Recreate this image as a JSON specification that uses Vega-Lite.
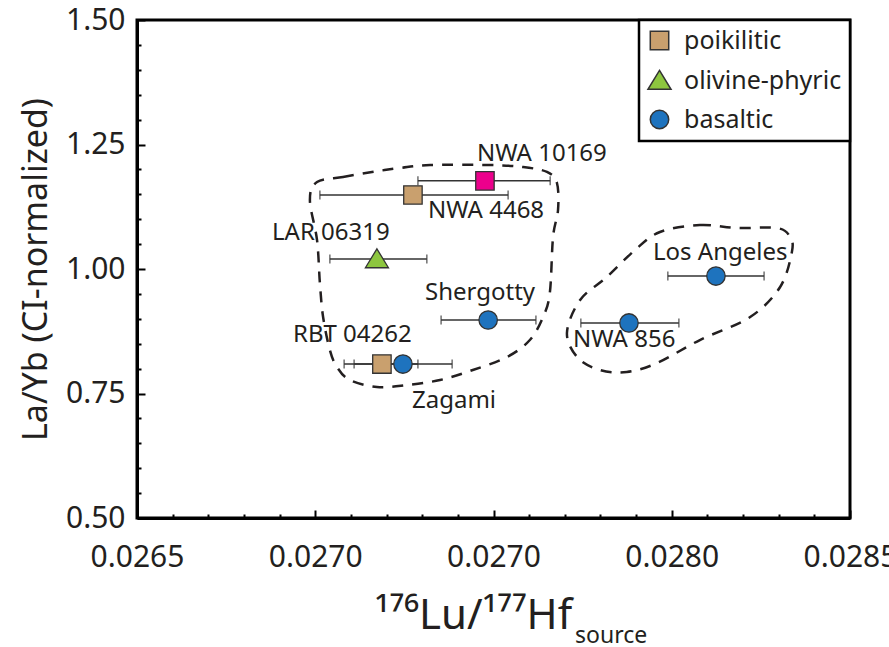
{
  "$schema": "https://vega.github.io/schema/vega-lite/v6.json",
  "width": 713,
  "height": 498,
  "autosize": {"type": "none"},
  "padding": {"left": 137, "top": 20, "right": 39, "bottom": 129},
  "background": "white",
  "config": {
    "view": {"stroke": "black", "strokeWidth": 3},
    "font": "Noto Sans",
    "axis": {"grid": false, "domainColor": "black", "domainWidth": 3, "tickColor": "black", "tickWidth": 2, "labelFont": "Noto Sans", "labelFontSize": 30, "labelColor": "#231F20", "labelOverlap": false, "labelFlush": false, "labelBound": false, "titleColor": "#231F20", "titleFontWeight": "normal"},
    "legend": {"orient": "top-right", "offset": 0, "padding": 8, "strokeColor": "black", "strokeWidth": 2.5, "fillColor": "white", "labelFont": "Noto Sans", "labelFontSize": 25, "labelColor": "#231F20", "rowPadding": 13, "labelOffset": 12, "cornerRadius": 0, "symbolSize": 340}
  },
  "datasets": {
    "pts": [
      {"name": "NWA 10169", "group": "NWA 10169", "x": 0.027476, "y": 1.177, "xlo": 0.027288, "xhi": 0.027659},
      {"name": "NWA 4468", "group": "poikilitic", "x": 0.027274, "y": 1.1486, "xlo": 0.027013, "xhi": 0.027541},
      {"name": "LAR 06319", "group": "olivine-phyric", "x": 0.027173, "y": 1.0201, "xlo": 0.027041, "xhi": 0.027313},
      {"name": "Shergotty", "group": "basaltic", "x": 0.027485, "y": 0.8976, "xlo": 0.027353, "xhi": 0.027619},
      {"name": "RBT 04262", "group": "poikilitic", "x": 0.027187, "y": 0.8092, "xlo": 0.027081, "xhi": 0.027288},
      {"name": "Zagami", "group": "basaltic", "x": 0.027246, "y": 0.8092, "xlo": 0.027109, "xhi": 0.027384},
      {"name": "NWA 856", "group": "basaltic", "x": 0.02788, "y": 0.8916, "xlo": 0.027745, "xhi": 0.02802},
      {"name": "Los Angeles", "group": "basaltic", "x": 0.028124, "y": 0.9859, "xlo": 0.027989, "xhi": 0.028259}
    ],
    "labels": [
      {"name": "NWA 10169", "x": 0.0274537, "y": 1.2169},
      {"name": "NWA 4468", "x": 0.0273163, "y": 1.1024},
      {"name": "LAR 06319", "x": 0.0268787, "y": 1.0582},
      {"name": "Shergotty", "x": 0.0273079, "y": 0.9378},
      {"name": "RBT 04262", "x": 0.0269376, "y": 0.8534},
      {"name": "Zagami", "x": 0.0272714, "y": 0.7209},
      {"name": "NWA 856", "x": 0.027723, "y": 0.8434},
      {"name": "Los Angeles", "x": 0.0279474, "y": 1.0181}
    ],
    "sub": [
      {"t": "source", "x": 0.0277286, "y": 0.249}
    ],
    "outline": [
      {"region": "A", "ord": 1, "x": 0.027005, "y": 1.1747},
      {"region": "A", "ord": 2, "x": 0.027078, "y": 1.1847},
      {"region": "A", "ord": 3, "x": 0.027159, "y": 1.1948},
      {"region": "A", "ord": 4, "x": 0.027238, "y": 1.2028},
      {"region": "A", "ord": 5, "x": 0.027322, "y": 1.2088},
      {"region": "A", "ord": 6, "x": 0.02749, "y": 1.2088},
      {"region": "A", "ord": 7, "x": 0.027583, "y": 1.2048},
      {"region": "A", "ord": 8, "x": 0.02765, "y": 1.1948},
      {"region": "A", "ord": 9, "x": 0.027678, "y": 1.1727},
      {"region": "A", "ord": 10, "x": 0.027681, "y": 1.1185},
      {"region": "A", "ord": 11, "x": 0.027667, "y": 1.0643},
      {"region": "A", "ord": 12, "x": 0.027658, "y": 0.9518},
      {"region": "A", "ord": 13, "x": 0.027639, "y": 0.9036},
      {"region": "A", "ord": 14, "x": 0.027602, "y": 0.8574},
      {"region": "A", "ord": 15, "x": 0.027538, "y": 0.8233},
      {"region": "A", "ord": 16, "x": 0.027442, "y": 0.7972},
      {"region": "A", "ord": 17, "x": 0.02735, "y": 0.7771},
      {"region": "A", "ord": 18, "x": 0.027257, "y": 0.7671},
      {"region": "A", "ord": 19, "x": 0.027173, "y": 0.7631},
      {"region": "A", "ord": 20, "x": 0.027097, "y": 0.7771},
      {"region": "A", "ord": 21, "x": 0.027061, "y": 0.8032},
      {"region": "A", "ord": 22, "x": 0.027041, "y": 0.8373},
      {"region": "A", "ord": 23, "x": 0.027022, "y": 0.9036},
      {"region": "A", "ord": 24, "x": 0.027013, "y": 0.9719},
      {"region": "A", "ord": 25, "x": 0.027005, "y": 1.0582},
      {"region": "A", "ord": 26, "x": 0.026985, "y": 1.1386},
      {"region": "B", "ord": 1, "x": 0.027967, "y": 1.0743},
      {"region": "B", "ord": 2, "x": 0.028079, "y": 1.0884},
      {"region": "B", "ord": 3, "x": 0.028183, "y": 1.0823},
      {"region": "B", "ord": 4, "x": 0.028295, "y": 1.0823},
      {"region": "B", "ord": 5, "x": 0.028332, "y": 1.0643},
      {"region": "B", "ord": 6, "x": 0.028337, "y": 1.0342},
      {"region": "B", "ord": 7, "x": 0.028304, "y": 0.9639},
      {"region": "B", "ord": 8, "x": 0.02822, "y": 0.9036},
      {"region": "B", "ord": 9, "x": 0.028079, "y": 0.8574},
      {"region": "B", "ord": 10, "x": 0.027959, "y": 0.8112},
      {"region": "B", "ord": 11, "x": 0.027874, "y": 0.7932},
      {"region": "B", "ord": 12, "x": 0.027799, "y": 0.7972},
      {"region": "B", "ord": 13, "x": 0.027737, "y": 0.8213},
      {"region": "B", "ord": 14, "x": 0.027706, "y": 0.8715},
      {"region": "B", "ord": 15, "x": 0.027743, "y": 0.9378},
      {"region": "B", "ord": 16, "x": 0.027818, "y": 0.984},
      {"region": "B", "ord": 17, "x": 0.027897, "y": 1.0382}
    ]
  },
  "layer": [
    {
      "data": {"name": "outline"},
      "mark": {"type": "line", "interpolate": "cardinal-closed", "strokeDash": [11, 9], "strokeWidth": 2.5, "color": "#231F20"},
      "encoding": {
        "x": {"field": "x", "type": "quantitative", "scale": {"domain": [0.0265, 0.0285], "nice": false, "zero": false},
          "axis": {
            "values": [0.0265, 0.0266, 0.0267, 0.0268, 0.0269, 0.027, 0.0271, 0.0272, 0.0273, 0.0274, 0.0275, 0.0276, 0.0277, 0.0278, 0.0279, 0.028, 0.0281, 0.0282, 0.0283, 0.0284, 0.0285],
            "tickCount": 100,
            "tickSize": {"condition": {"test": "abs(datum.value*2000 - round(datum.value*2000)) < 0.001", "value": -8}, "value": -4},
            "labelExpr": "abs(datum.value*2000 - round(datum.value*2000)) < 0.001 ? (abs(datum.value - 0.0275) < 0.00001 ? '0.0270' : format(datum.value, '.4f')) : ''",
            "labelOverlap": false,
            "labelPadding": 32,
            "title": "¹⁷⁶Lu/¹⁷⁷Hf",
            "titleFont": "Noto Sans",
            "titleFontSize": 42,
            "titleX": 336,
            "titleY": 110,
            "titleAlign": "center",
            "titleBaseline": "alphabetic"
          }
        },
        "y": {"field": "y", "type": "quantitative", "scale": {"domain": [0.5, 1.5], "nice": false, "zero": false},
          "axis": {
            "values": [0.5, 0.55, 0.6, 0.65, 0.7, 0.75, 0.8, 0.85, 0.9, 0.95, 1.0, 1.05, 1.1, 1.15, 1.2, 1.25, 1.3, 1.35, 1.4, 1.45, 1.5],
            "tickCount": 100,
            "tickSize": {"condition": {"test": "abs(datum.value*4 - round(datum.value*4)) < 0.001", "value": -8}, "value": -4},
            "labelExpr": "abs(datum.value*4 - round(datum.value*4)) < 0.001 ? format(datum.value, '.2f') : ''",
            "labelOverlap": false,
            "labelPadding": 20,
            "title": "La/Yb (CI-normalized)",
            "titleFont": "Noto Sans",
            "titleFontSize": 34,
            "titleX": -91,
            "titleY": 249,
            "titleAngle": 270,
            "titleAlign": "center",
            "titleBaseline": "alphabetic"
          }
        },
        "detail": {"field": "region", "type": "nominal"},
        "order": {"field": "ord", "type": "quantitative"}
      }
    },
    {
      "data": {"name": "pts"},
      "mark": {"type": "rule", "color": "#333333", "strokeWidth": 1.5},
      "encoding": {
        "x": {"field": "xlo", "type": "quantitative"},
        "x2": {"field": "xhi"},
        "y": {"field": "y", "type": "quantitative"}
      }
    },
    {
      "data": {"name": "pts"},
      "mark": {"type": "tick", "orient": "vertical", "color": "#333333", "size": 9, "thickness": 1.5},
      "encoding": {
        "x": {"field": "xlo", "type": "quantitative"},
        "y": {"field": "y", "type": "quantitative"}
      }
    },
    {
      "data": {"name": "pts"},
      "mark": {"type": "tick", "orient": "vertical", "color": "#333333", "size": 9, "thickness": 1.5},
      "encoding": {
        "x": {"field": "xhi", "type": "quantitative"},
        "y": {"field": "y", "type": "quantitative"}
      }
    },
    {
      "data": {"name": "pts"},
      "mark": {"type": "point", "filled": true, "stroke": "#333333", "strokeWidth": 1.3, "opacity": 1, "size": 340},
      "encoding": {
        "x": {"field": "x", "type": "quantitative"},
        "y": {"field": "y", "type": "quantitative"},
        "shape": {"field": "group", "type": "nominal",
          "scale": {"domain": ["poikilitic", "olivine-phyric", "basaltic", "NWA 10169"], "range": ["square", "M0,-1.1L1.25,0.95L-1.25,0.95Z", "circle", "square"]},
          "legend": {"title": null, "values": ["poikilitic", "olivine-phyric", "basaltic"],
            "encode": {"symbols": {"update": {"stroke": {"value": "#333333"}, "strokeWidth": {"value": 1.3}}}}}},
        "fill": {"field": "group", "type": "nominal",
          "scale": {"domain": ["poikilitic", "olivine-phyric", "basaltic", "NWA 10169"], "range": ["#C9A06E", "#8DC63F", "#1E73BE", "#EC008C"]},
          "legend": {"title": null, "values": ["poikilitic", "olivine-phyric", "basaltic"],
            "encode": {"symbols": {"update": {"stroke": {"value": "#333333"}, "strokeWidth": {"value": 1.3}}}}}}
      }
    },
    {
      "data": {"name": "labels"},
      "mark": {"type": "text", "align": "left", "baseline": "alphabetic", "font": "Noto Sans", "fontSize": 24, "color": "#231F20"},
      "encoding": {
        "x": {"field": "x", "type": "quantitative"},
        "y": {"field": "y", "type": "quantitative"},
        "text": {"field": "name"}
      }
    },
    {
      "data": {"name": "sub"},
      "mark": {"type": "text", "align": "left", "baseline": "alphabetic", "font": "Noto Sans", "fontSize": 23, "color": "#231F20"},
      "encoding": {
        "x": {"field": "x", "type": "quantitative"},
        "y": {"field": "y", "type": "quantitative"},
        "text": {"field": "t"}
      }
    }
  ]
}
